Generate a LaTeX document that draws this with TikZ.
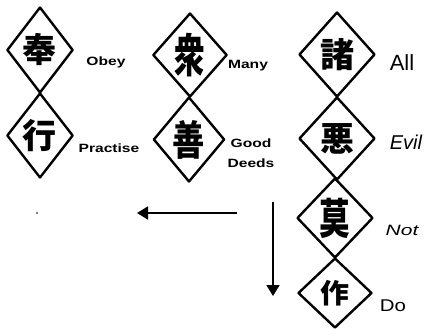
\documentclass[tikz,border=0pt]{standalone}
\usepackage{fontspec}
\setmainfont{Liberation Sans}
\newfontfamily\cjk{Noto Sans CJK JP}
\usetikzlibrary{shapes.geometric,arrows.meta}
\begin{document}
\begin{tikzpicture}[x=1pt,y=-1pt,
  dia/.style={draw, shape=diamond, line width=2.4pt, line join=round, inner sep=0pt,
    font=\cjk\bfseries\fontsize{34}{34}\selectfont},
  small/.style={font=\bfseries\fontsize{12}{14}\selectfont, inner sep=0pt, xscale=1.3},
  big/.style={font=\fontsize{22}{22}\selectfont, inner sep=0pt},
  mid/.style={font=\itshape\fontsize{15}{15}\selectfont, inner sep=0pt},
  arr/.style={line width=1.8pt, -{Triangle[length=11pt,width=13pt]}}]
\useasboundingbox (0,0) rectangle (432,329);
% column 1
\node[dia, minimum width=64pt, minimum height=86pt] (c1a) at (40,50) {奉};
\node[dia, minimum width=64pt, minimum height=85pt] (c1b) at (40,135.5) {行};
% column 2
\node[dia, minimum width=66pt, minimum height=84pt] (c2a) at (190,55) {\scalebox{0.9}[1.35]{衆}};
\node[dia, minimum width=68pt, minimum height=85pt] (c2b) at (189,139.5) {\scalebox{0.95}[1.2]{善}};
% column 3
\node[dia, minimum width=76pt, minimum height=85pt] (c3a) at (337,54.5) {諸};
\node[dia, minimum width=76pt, minimum height=83pt] (c3b) at (337,138.5) {悪};
\node[dia, minimum width=76pt, minimum height=80pt] (c3c) at (335,218) {\scalebox{0.9}[1.25]{莫}};
\node[dia, minimum width=74pt, minimum height=70pt] (c3d) at (335,293) {\scalebox{0.85}[0.8]{作}};
% labels
\node[small] (l1) at (106,62) {Obey};
\node[small] (l2) at (109,148) {Practise};
\node[small] (l3) at (248,66) {Many};
\node[small, align=center, font=\bfseries\fontsize{12}{20}\selectfont] (l4) at (251,153) {Good\\Deeds};
\node[big] (l5) at (402,63) {All};
\node[big, font=\itshape\fontsize{20}{20}\selectfont] (l6) at (406,142) {Evil};
\node[mid, xscale=1.4] (l7) at (402,230) {Not};
\node[mid, font=\fontsize{17}{17}\selectfont, xscale=1.2] (l8) at (393,306) {Do};
% arrows
\coordinate (h1) at (237,213);
\coordinate (h2) at (137,213);
\coordinate (v1) at (273,202);
\coordinate (v2) at (273,296);
\draw[arr] (h1) -- (h2);
\draw[arr] (v1) -- (v2);
% speck
\coordinate (sp) at (37,213);
\fill (sp) circle (0.8pt);
\end{tikzpicture}
\end{document}
